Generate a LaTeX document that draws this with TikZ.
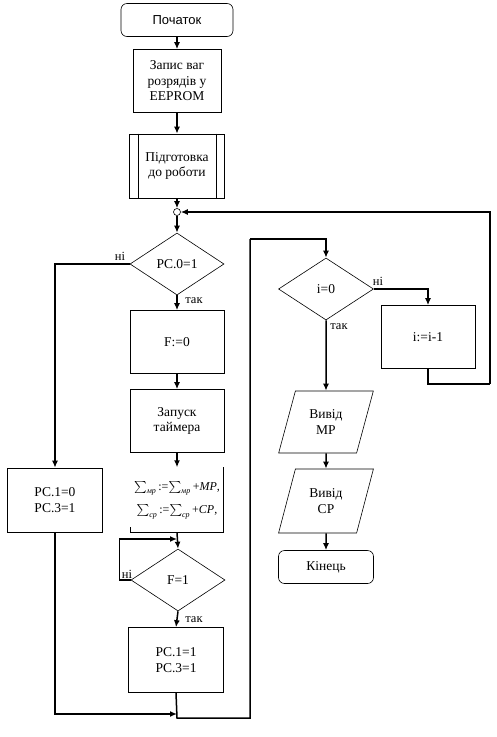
\documentclass[tikz,border=0pt]{standalone}
\usepackage{amsmath}
\usepackage{fontspec}
\setmainfont{Liberation Serif}
\newfontfamily\arialfont{Liberation Sans}
\usetikzlibrary{shapes.geometric,arrows.meta}

\begin{document}
\begin{tikzpicture}[x=1pt,y=-1pt,
  blk/.style={draw,line width=0.6pt,minimum width=94pt,minimum height=63pt,inner sep=1pt,align=center,font=\fontsize{13.5}{15.5}\selectfont},
  cond/.style={draw,diamond,line width=0.6pt,minimum width=94pt,minimum height=62pt,inner sep=0pt,font=\fontsize{13.5}{15}\selectfont},
  io/.style={draw,trapezium,trapezium left angle=70,trapezium right angle=110,trapezium stretches=true,line width=0.6pt,minimum width=95pt,minimum height=62pt,inner sep=1pt,align=center,font=\fontsize{13.5}{15.5}\selectfont},
  term/.style={draw,rounded corners=6pt,line width=0.6pt,minimum height=33pt,inner sep=1pt},
  flow/.style={line width=1.5pt},
  arr/.style={flow,-{Latex[length=7pt,width=6pt]}},
  lbl/.style={font=\fontsize{12.5}{13}\selectfont,inner sep=0pt}]
\useasboundingbox (0,0) rectangle (497,737);

% main column
\node (start) at (177,20) [term,minimum width=112pt,font=\arialfont\fontsize{13}{14}\selectfont] {Початок};
\node (zapys) at (177,81) [blk,minimum width=88pt] {Запис ваг\\розрядів у\\EEPROM};
\node (pidg) at (177,166) [blk,minimum width=95pt,minimum height=64pt] {Підготовка\\до роботи};
\draw [line width=0.6pt] ([xshift=9pt]pidg.north west) -- ([xshift=9pt]pidg.south west);
\draw [line width=0.6pt] ([xshift=-9pt]pidg.north east) -- ([xshift=-9pt]pidg.south east);
\node (circ) at (177,212) [draw,circle,line width=0.6pt,minimum size=7pt,inner sep=0pt] {};
\node (pc0) at (177,264) [cond] {PC.0=1};
\node (f0) at (177,342) [blk] {F:=0};
\node (tmr) at (177,421) [blk] {Запуск\\таймера};
\node (sum) at (177,500) [minimum width=93pt,minimum height=65pt,inner sep=0pt,align=center,font=\fontsize{12}{14}\selectfont]
  {$\sum_{\text{\itshape мр}}$\,:=$\sum_{\text{\itshape мр}}$\,+\textit{MP},\\[8pt]$\sum_{\text{\itshape ср}}$\,:=$\sum_{\text{\itshape ср}}$\,+\textit{CP},};
\draw [line width=0.6pt] (sum.north east) -- (sum.south east) -- (sum.south west) -- ++(0,-6);
\node (f1) at (178,580) [cond] {F=1};
\node (pc11) at (176,660) [blk,minimum width=95pt,minimum height=65pt] {PC.1=1\\PC.3=1};
\node (pc10) at (55,500) [blk,minimum width=95pt,minimum height=64pt] {PC.1=0\\PC.3=1};

% right column
\node (i0) at (326,289) [cond,minimum width=95pt] {i=0};
\node (idec) at (428,337) [blk,minimum height=63pt] {i:=i-1};
\node (mp) at (326,422) [io] {Вивід\\MP};
\node (cp) at (326,501) [io,minimum height=64pt] {Вивід\\CP};
\node (fin) at (326,567) [term,minimum width=95pt,font=\fontsize{13.5}{14}\selectfont] {Кінець};

% free ends of the connectors
\coordinate (lp) at (177,539);
\coordinate (mrg) at (177,714);
\coordinate (bt) at (177,718);
\coordinate (up) at (250,239);
\coordinate (rt) at (490,384);

% connectors
\draw [arr] (start) -- (zapys);
\draw [arr] (zapys) -- (pidg);
\draw [arr] (pidg) -- (circ);
\draw [arr] (circ) -- (pc0);
\draw [arr] (pc0.west) -| (pc10.north);
\draw [arr] (pc0.south) -- (f0.north);
\draw [arr] (f0) -- (tmr);
\draw [arr] (tmr) -- (sum);
\draw [arr] (sum.south) -- (f1.north);
\draw [arr] (f1.west) -- ++(-11,0) |- (lp);
\draw [arr] (f1.south) -- (pc11.north);
\draw [arr] (pc10.south) |- (mrg);
\draw [flow] (pc11.south) -- (bt) -| (up);
\draw [arr] (up) -| (i0.north);
\draw [arr] (i0.east) -| (idec.north);
\draw [arr] (i0.south) -- (mp.north);
\draw [arr] (mp) -- (cp);
\draw [arr] (cp) -- (fin);
\draw [flow,line width=1.3pt] (idec.south) |- (rt);
\draw [arr,line width=1.3pt] (rt) |- (circ.east);

% labels
\node (n1) at (120,256) [lbl] {ні};
\node (t1) at (194,301) [lbl] {так};
\node (n2) at (127,574) [lbl] {ні};
\node (t2) at (194,620) [lbl] {так};
\node (n3) at (378,281) [lbl] {ні};
\node (t3) at (339,327) [lbl] {так};
\end{tikzpicture}
\end{document}
